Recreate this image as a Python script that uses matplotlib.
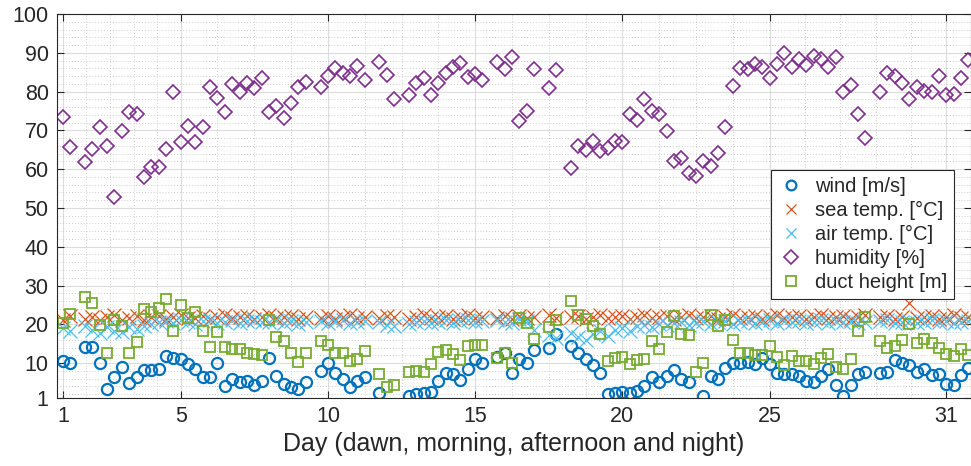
import numpy as np
import matplotlib
matplotlib.use("Agg")
import matplotlib.pyplot as plt
from matplotlib.ticker import FixedLocator

nan = np.nan

# Four readings per day: dawn, morning, afternoon, night
n_points = 124
days = 1 + np.arange(n_points) / 4.0

wind = [
    10.6, 10.0, nan, 14.2, 14.1, 10.0, 3.3, 6.3, 9.1, 4.8, 6.5, 8.2, 8.1, 8.5,
    11.7, 11.2, 11.1, 9.8, 8.4, 6.3, 6.5, 10.1, 4.2, 5.8, 5.2, 5.4, 4.4, 5.4,
    11.2, 6.7, 4.6, 3.9, 3.2, 5.2, nan, 8.0, 9.9, 7.5, 5.8, 3.9, 5.5, 6.4,
    nan, 2.4, nan, nan, nan, 1.5, 2.0, 2.2, 2.6, 5.4, 7.4, 7.1, 5.7, 8.4,
    11.1, 10.0, nan, 11.5, 12.6, 7.5, 11.0, 10.1, 13.4, nan, 13.8, 17.4, nan, 14.4,
    12.6, 11.0, 9.5, 7.5, 2.0, 2.4, 2.6, 2.4, 2.9, 4.1, 6.5, 5.0, 6.7, 8.2,
    5.8, 5.2, nan, 1.5, 6.7, 5.8, 8.7, 9.9, 10.1, 10.4, 9.8, 11.4, 9.8, 7.4,
    7.2, 7.2, 6.7, 5.5, 5.2, 6.7, 8.4, 4.4, 1.6, 4.4, 7.2, 7.8, nan, 7.4,
    7.8, 10.8, 10.0, 9.5, 7.8, 8.4, 6.9, 7.2, 4.5, 4.4, 6.9, 8.7,
]

sea_temp = [
    21.0, 22.2, nan, 21.4, 22.0, 21.0, 21.8, 22.3, 21.2, 21.6, 22.1, 21.0, 21.9, 22.2,
    21.4, 21.8, 22.3, 21.5, 21.7, 22.2, 21.3, 21.9, 22.3, 21.6, 21.8, 22.1, 21.4, 21.9,
    22.3, 21.5, 21.8, 22.2, 21.3, 21.9, nan, 21.6, 22.2, 21.4, 21.8, 22.3, 21.5, 21.9,
    nan, 21.5, 22.2, 21.8, nan, 21.4, 22.0, 22.3, 21.5, 21.8, 22.2, 21.4, 21.9, 22.3,
    21.6, 21.8, nan, 21.7, 22.1, 21.4, 22.2, 21.7, 21.9, nan, 22.3, 21.6, nan, 21.8,
    22.2, 21.4, 21.9, 22.3, 21.5, 21.8, 22.2, 21.3, 21.9, 22.3, 21.6, 21.8, 22.1, 21.4,
    21.9, 22.3, 21.5, 21.8, 22.2, 21.3, 21.9, 22.3, 21.6, 21.8, 22.1, 21.4, 21.9, 22.3,
    21.5, 21.8, 22.2, 21.3, 21.9, 22.3, 21.6, 21.8, 22.1, 21.4, 21.9, 22.3, nan, 21.8,
    22.2, 21.3, 21.9, 25.5, 21.6, 21.8, 22.1, 21.4, 21.9, 22.3, 21.5, 21.8,
]

air_temp = [
    19.0, 18.2, nan, 19.5, 18.6, 17.8, 19.2, 18.4, 17.9, 19.3, 18.7, 19.6, 20.1, 20.6,
    20.9, 20.3, 21.0, 20.6, 20.2, 20.8, 21.1, 20.4, 20.7, 21.0, 20.3, 20.8, 21.1, 20.5,
    20.6, 21.0, 20.4, 20.8, 20.2, 20.7, nan, 20.9, 20.4, 20.8, 21.0, 20.3, 20.6, 20.9,
    nan, 20.5, 19.8, 19.5, nan, 20.2, 20.6, 20.9, 20.4, 20.7, 21.0, 20.3, 20.8, 21.0,
    20.5, 20.8, nan, 21.0, 20.6, 20.4, 21.3, 20.8, 18.5, nan, 17.2, 16.5, nan, 17.8,
    16.8, 16.0, 17.5, 18.2, 17.0, 18.6, 19.0, 18.4, 19.5, 19.8, 19.2, 20.0, 19.7, 20.3,
    20.6, 19.9, 20.4, 20.8, 20.1, 20.5, 20.8, 20.2, 20.6, 20.9, 20.3, 20.7, 21.0, 20.4,
    20.8, 20.5, 20.9, 20.3, 20.7, 21.0, 20.4, 20.8, 20.5, 20.9, 20.3, 20.7, nan, 20.8,
    21.0, 20.4, 20.7, 20.9, 20.3, 20.6, 21.0, 20.5, 20.8, 20.4, 20.7, 20.9,
]

humidity = [
    73.5, 65.8, nan, 61.9, 65.1, 70.9, 66.0, 52.7, 69.9, 74.8, 74.1, 58.1, 60.5, 60.6,
    65.1, 80.0, 67.1, 71.1, 67.1, 70.9, 81.1, 78.4, 74.8, 81.9, 79.8, 82.3, 80.8, 83.6,
    74.8, 76.3, 73.1, 77.0, 81.1, 82.5, nan, 81.1, 84.1, 86.1, 84.7, 84.0, 86.7, 83.0,
    nan, 87.5, 84.4, 78.0, nan, 79.1, 82.1, 83.6, 79.1, 82.1, 84.9, 86.4, 87.3, 83.8,
    84.5, 83.0, nan, 87.7, 85.7, 88.8, 72.5, 75.1, 85.8, nan, 81.0, 85.5, nan, 60.2,
    66.0, 64.9, 67.3, 64.8, 65.4, 67.3, 67.1, 74.2, 72.8, 78.2, 75.0, 74.2, 69.9, 62.2,
    63.0, 59.1, 58.3, 62.2, 60.8, 64.2, 70.9, 81.5, 86.1, 85.7, 87.0, 86.4, 83.6, 87.0,
    90.0, 86.4, 88.3, 86.8, 89.1, 88.3, 86.4, 89.0, 80.0, 81.7, 74.2, 68.1, nan, 80.0,
    84.8, 84.1, 82.1, 78.0, 81.1, 80.2, 79.8, 84.1, 79.1, 79.5, 83.4, 88.1,
]

duct_height = [
    20.4, 22.6, nan, 27.1, 25.4, 19.8, 12.5, 21.1, 19.6, 12.5, 15.4, 24.0, 23.3, 24.3,
    26.4, 18.3, 25.0, 21.5, 23.3, 18.3, 14.1, 18.1, 14.2, 13.6, 13.6, 12.5, 12.4, 12.1,
    21.1, 16.8, 15.8, 12.5, 10.2, 12.6, nan, 15.7, 14.7, 12.7, 12.6, 10.6, 11.0, 13.2,
    nan, 7.2, 3.8, 4.4, nan, 7.8, 7.9, 7.8, 9.7, 12.8, 13.4, 12.3, 10.8, 14.3,
    14.7, 14.7, nan, 11.3, 12.6, 10.0, 21.5, 20.3, 16.2, nan, 19.3, 21.0, nan, 25.9,
    22.5, 21.3, 19.5, 17.4, 10.6, 11.3, 11.5, 9.7, 10.8, 11.0, 15.6, 13.7, 18.0, 22.2,
    17.5, 17.3, 7.7, 10.0, 22.5, 19.6, 21.2, 16.0, 12.7, 12.7, 12.1, 12.1, 14.4, 11.5,
    9.5, 11.9, 10.6, 10.6, 9.8, 11.3, 12.4, 8.9, 8.4, 11.0, 18.3, 21.9, nan, 15.8,
    13.8, 14.3, 16.0, 20.2, 15.1, 16.3, 15.1, 13.8, 12.3, 11.7, 13.7, 12.1,
]

series_labels = ["wind [m/s]", "sea temp. [°C]", "air temp. [°C]", "humidity [%]", "duct height [m]"]
x_ticks = [1, 5, 10, 15, 20, 25, 31]
y_ticks = [1, 10, 20, 30, 40, 50, 60, 70, 80, 90, 100]
x_label = "Day (dawn, morning, afternoon and night)"

plt.rcParams["font.family"] = ["Liberation Sans", "DejaVu Sans"]

fig = plt.figure(figsize=(9.71, 4.66), dpi=100)
ax = fig.add_axes([57 / 971, 1 - 398 / 466, (971 - 57) / 971, (398 - 14) / 466])

styles = [
    dict(marker="o", color="#0072BD", ms=8.0, mew=1.6, mfc="none"),
    dict(marker="x", color="#D95319", ms=9.5, mew=0.9),
    dict(marker="x", color="#4DBEEE", ms=9.5, mew=0.9),
    dict(marker="D", color="#7E2F8E", ms=7.0, mew=1.2, mfc="none"),
    dict(marker="s", color="#77AC30", ms=7.2, mew=1.3, mfc="none"),
]
values = [wind, sea_temp, air_temp, humidity, duct_height]
for vals, lab, st in zip(values, series_labels, styles):
    ax.plot(days, vals, linestyle="none", label=lab, **st)

ax.set_xlim(0.8, 31.84)
ax.set_ylim(1, 100)
ax.set_xticks(x_ticks)
ax.set_yticks(y_ticks)

# minor grid subdivisions between the major ticks
x_minor = []
for a, b, k in [(1, 5, 5), (5, 10, 4), (10, 15, 4), (15, 20, 4), (20, 25, 4), (25, 31, 5)]:
    x_minor += list(np.linspace(a, b, k + 1)[1:-1])
y_minor = [v for v in range(2, 100, 2) if v not in y_ticks]
ax.xaxis.set_minor_locator(FixedLocator(x_minor))
ax.yaxis.set_minor_locator(FixedLocator(y_minor))

ax.grid(which="major", color="#dcdcdc", linewidth=0.8)
ax.grid(which="minor", color="#bdbdbd", linewidth=0.6, linestyle=(0, (1, 2.5)))
ax.set_axisbelow(True)

ax.tick_params(which="major", direction="in", length=5, width=0.8, colors="#262626",
               labelsize=15.5, top=True, right=True, pad=6)
ax.tick_params(which="minor", length=0, top=True, right=True)
for sp in ax.spines.values():
    sp.set_color("#262626")
    sp.set_linewidth(0.8)

ax.set_xlabel(x_label, fontsize=18, color="#262626", labelpad=3)

leg = ax.legend(loc="upper left", bbox_to_anchor=(0.781, 0.594), borderaxespad=0,
                fontsize=14.5, frameon=True, fancybox=False, framealpha=1,
                edgecolor="#262626", labelspacing=0.25, handlelength=1.3,
                handletextpad=0.55, borderpad=0.35)
leg.get_frame().set_linewidth(0.8)
for h in leg.legend_handles:
    h.set_markersize(7.0)
for t in leg.get_texts():
    t.set_color("#262626")

fig.savefig("out.png", dpi=100)
